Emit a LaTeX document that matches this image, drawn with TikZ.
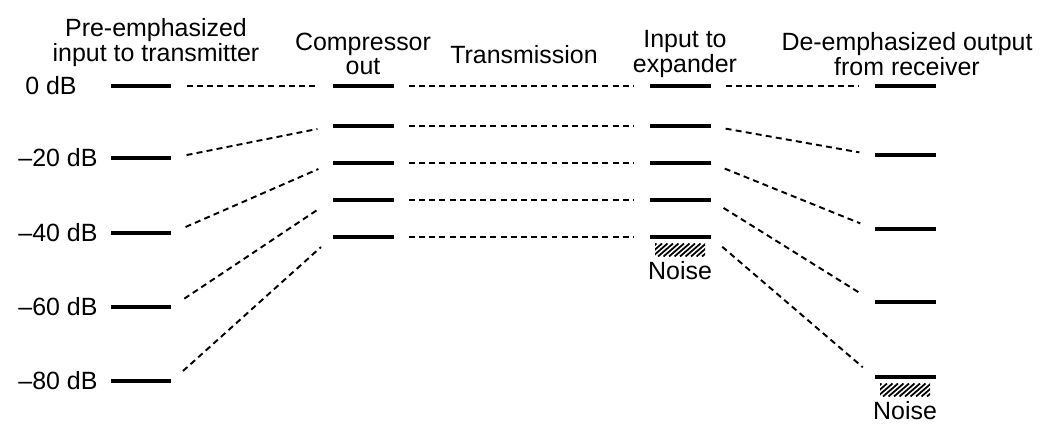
\documentclass[tikz,border=0pt]{standalone}
\usepackage{fontspec}
\setmainfont{Liberation Sans}
\usetikzlibrary{positioning}
\begin{document}
\begin{tikzpicture}[x=0.02cm,y=-0.02cm,
  bar/.style={fill=black, inner sep=0pt, minimum width=1.22cm, minimum height=0.08cm},
  conn/.style={dash pattern=on 3.4pt off 2.4pt, line width=1.1pt, shorten <=0.3cm, shorten >=0.3cm},
  lbl/.style={font=\fontsize{14.2}{13.2}\selectfont, align=center, inner sep=0pt},
  noise/.style={inner sep=0pt, minimum width=1.0cm, minimum height=0.26cm,
    path picture={\foreach \k in {-14,...,14}
      \draw[line width=1pt] ([xshift=\k*0.11cm]path picture bounding box.south) -- ++(0.3cm,0.26cm);}}
]
\useasboundingbox (0,0) rectangle (1040,423);
% titles
\node[lbl] (t1) at (156,43) {Pre-emphasized\\input to transmitter};
\node[lbl] (t2) at (363,54) {Compressor\\out};
\node[lbl] (t3) at (524,55) {Transmission};
\node[lbl] (t4) at (685,54) {Input to\\expander};
\node[lbl] (t5) at (907,54) {De-emphasized output\\from receiver};
% dB labels
\node[lbl] (l0) at (51,86) {0 dB};
\node[lbl] (l1) at (58,158) {\textendash20 dB};
\node[lbl] (l2) at (58,233) {\textendash40 dB};
\node[lbl] (l3) at (58,307) {\textendash60 dB};
\node[lbl] (l4) at (58,381) {\textendash80 dB};
% bars
\foreach \i/\y in {0/86,1/158,2/233,3/307,4/381} \node[bar] (a\i) at (141,\y) {};
\foreach \i/\y in {0/86,1/126,2/163,3/200,4/237} \node[bar] (b\i) at (363,\y) {};
\foreach \i/\y in {0/86,1/126,2/163,3/200,4/237} \node[bar] (c\i) at (680,\y) {};
\foreach \i/\y in {0/86,1/155,2/229,3/302,4/377} \node[bar] (d\i) at (905,\y) {};
% connectors
\foreach \i in {0,...,4} {
  \draw[conn] (a\i.east) -- (b\i.west);
  \draw[conn] (b\i.east) -- (c\i.west);
  \draw[conn] (c\i.east) -- (d\i.west);
}
% noise
\node[noise] (n1) at (680,250) {};
\node[lbl, below=0.08cm of n1] (nl1) {Noise};
\node[noise] (n2) at (905,390) {};
\node[lbl, below=0.08cm of n2] (nl2) {Noise};
\end{tikzpicture}
\end{document}
